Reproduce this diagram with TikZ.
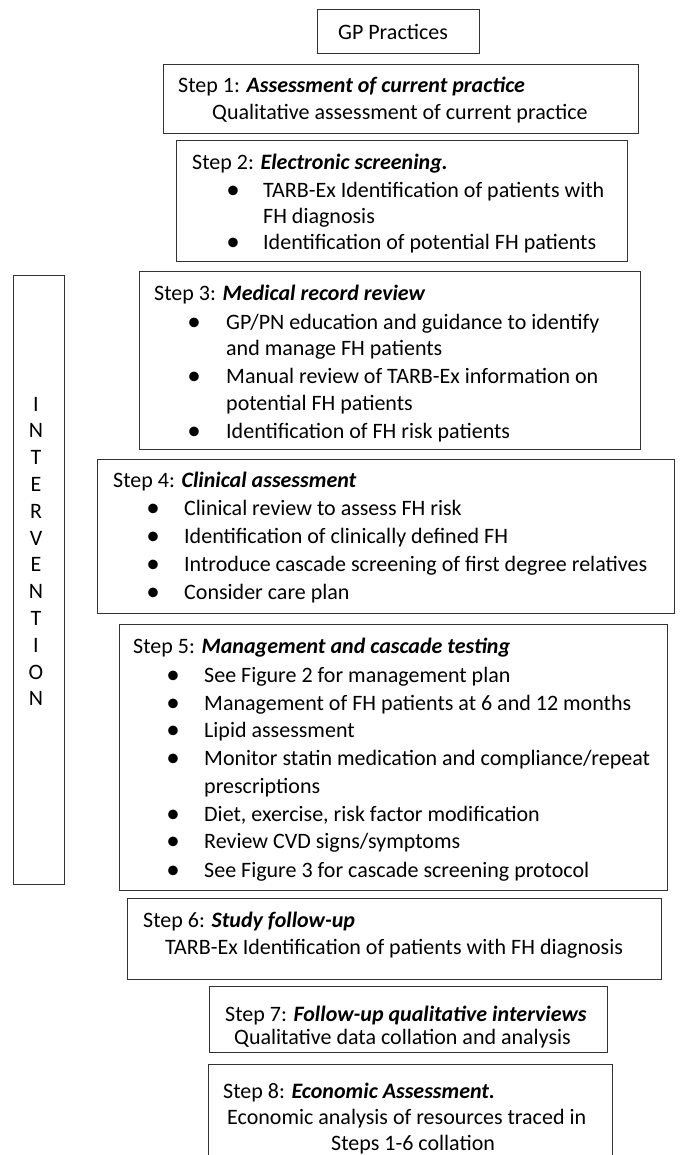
\documentclass[tikz,border=0pt]{standalone}
\usepackage{fontspec}
\setmainfont{Carlito}
\begin{document}
\begin{tikzpicture}[x=1pt,y=-1pt,
  boxst/.style={draw=black!80,line width=1.3pt,rectangle,inner sep=0pt,anchor=north west},
  txt/.style={anchor=base west,inner sep=0pt,font=\fontsize{22}{26.8}\selectfont},
  ctxt/.style={anchor=base,inner sep=0pt,font=\fontsize{22}{26.8}\selectfont},
  bul/.style={anchor=base,inner sep=0pt,font=\fontsize{27}{30}\selectfont}]
\useasboundingbox (0,0) rectangle (681,1155);
% boxes
\node[boxst,minimum width=162pt,minimum height=44pt] (gp) at (317,9) {};
\node[boxst,minimum width=475pt,minimum height=69pt] (s1) at (163,64) {};
\node[boxst,minimum width=451pt,minimum height=121pt] (s2) at (176,140) {};
\node[boxst,minimum width=51pt,minimum height=609pt] (iv) at (13,275) {};
\node[boxst,minimum width=501pt,minimum height=178pt] (s3) at (139,271) {};
\node[boxst,minimum width=577pt,minimum height=154pt] (s4) at (97,459) {};
\node[boxst,minimum width=548pt,minimum height=266pt] (s5) at (119,624) {};
\node[boxst,minimum width=534pt,minimum height=81pt] (s6) at (127,898) {};
\node[boxst,minimum width=398pt,minimum height=66pt] (s7) at (209,986) {};
\node[boxst,minimum width=404pt,minimum height=140pt] (s8) at (208,1064) {};
% GP
\node[ctxt] (gpt) at (393,40) {GP Practices};
% Step 1
\node[txt] (s1h) at (178,93) {Step 1: \textbf{\textit{Assessment of current practice}}};
\node[txt] (s1a) at (212,120) {Qualitative assessment of current practice};
% Step 2
\node[txt] (s2h) at (192,170) {Step 2: \textbf{\textit{Electronic screening.}}};
\node[bul] (s2b1) at (233,199) {•};
\node[txt] (s2a) at (263,198) {TARB-Ex Identification of patients with};
\node[txt] (s2a2) at (263,224) {FH diagnosis};
\node[bul] (s2b2) at (233,251) {•};
\node[txt] (s2b) at (263,250) {Identification of potential FH patients};
% Step 3
\node[txt] (s3h) at (154,300) {Step 3: \textbf{\textit{Medical record review}}};
\node[bul] (s3b1) at (194,330) {•};
\node[txt] (s3a) at (226,329) {GP/PN education and guidance to identify};
\node[txt] (s3a2) at (226,355) {and manage FH patients};
\node[bul] (s3b2) at (194,384) {•};
\node[txt] (s3b) at (226,383) {Manual review of TARB-Ex information on};
\node[txt] (s3b2t) at (226,410) {potential FH patients};
\node[bul] (s3b3) at (194,439) {•};
\node[txt] (s3c) at (226,438) {Identification of FH risk patients};
% Step 4
\node[txt] (s4h) at (113,487) {Step 4: \textbf{\textit{Clinical assessment}}};
\node[bul] (s4b1) at (153,516) {•};
\node[txt] (s4a) at (184,515) {Clinical review to assess FH risk};
\node[bul] (s4b2) at (153,544) {•};
\node[txt] (s4b) at (184,543) {Identification of clinically defined FH};
\node[bul] (s4b3) at (153,572) {•};
\node[txt] (s4c) at (184,571) {Introduce cascade screening of first degree relatives};
\node[bul] (s4b4) at (153,600) {•};
\node[txt] (s4d) at (184,599) {Consider care plan};
% Step 5
\node[txt] (s5h) at (133,653) {Step 5: \textbf{\textit{Management and cascade testing}}};
\node[bul] (s5b1) at (173,683) {•};
\node[txt] (s5a) at (204,682) {See Figure 2 for management plan};
\node[bul] (s5b2) at (173,711) {•};
\node[txt] (s5b) at (204,710) {Management of FH patients at 6 and 12 months};
\node[bul] (s5b3) at (173,738) {•};
\node[txt] (s5c) at (204,737) {Lipid assessment};
\node[bul] (s5b4) at (173,766) {•};
\node[txt] (s5d) at (204,765) {Monitor statin medication and compliance/repeat};
\node[txt] (s5d2) at (204,793) {prescriptions};
\node[bul] (s5b5) at (173,822) {•};
\node[txt] (s5e) at (204,821) {Diet, exercise, risk factor modification};
\node[bul] (s5b6) at (173,849) {•};
\node[txt] (s5f) at (204,848) {Review CVD signs/symptoms};
\node[bul] (s5b7) at (173,878) {•};
\node[txt] (s5g) at (204,877) {See Figure 3 for cascade screening protocol};
% Step 6
\node[txt] (s6h) at (143,927) {Step 6: \textbf{\textit{Study follow-up}}};
\node[txt] (s6a) at (165,954) {TARB-Ex Identification of patients with FH diagnosis};
% Step 7
\node[txt] (s7h) at (225,1021) {Step 7: \textbf{\textit{Follow-up qualitative interviews}}};
\node[txt] (s7a) at (234,1044) {Qualitative data collation and analysis};
% Step 8
\node[txt] (s8h) at (223,1098) {Step 8: \textbf{\textit{Economic Assessment.}}};
\node[txt] (s8a) at (227,1124) {Economic analysis of resources traced in};
\node[txt] (s8b) at (331,1150) {Steps 1-6 collation};
% INTERVENTION
\foreach \l [count=\k from 0] in {I,N,T,E,R,V,E,N,T,I,O,N}
  \node[ctxt] (iv\k) at (36,411+26.8*\k) {\l};
\end{tikzpicture}
\end{document}
